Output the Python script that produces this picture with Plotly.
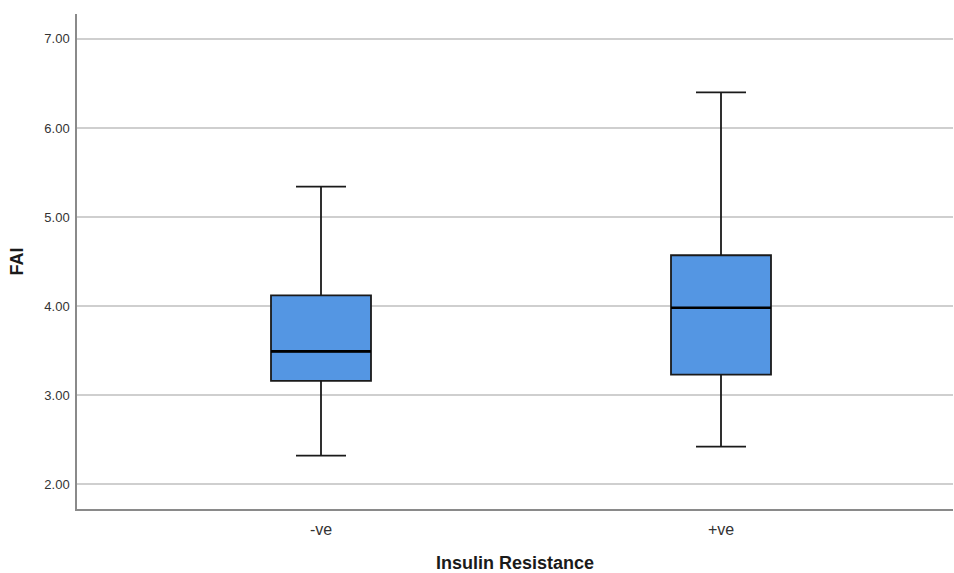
import plotly.graph_objects as go

categories = ["-ve", "+ve"]
lower = [2.32, 2.42]
q1 = [3.16, 3.23]
median = [3.49, 3.98]
q3 = [4.12, 4.57]
upper = [5.34, 6.40]
y_ticks = [2.0, 3.0, 4.0, 5.0, 6.0, 7.0]

xpos = list(range(len(categories)))
box_w = 0.25

fig = go.Figure()
fig.add_trace(go.Box(
    x=xpos, q1=q1, median=median, q3=q3, lowerfence=lower, upperfence=upper,
    width=box_w, whiskerwidth=0.5, fillcolor="#5496E3",
    line=dict(color="#1a1a1a", width=1.8), boxpoints=False, hoverinfo="skip",
    showlegend=False,
))
mx, my = [], []
for i, m in zip(xpos, median):
    mx += [i - box_w / 2, i + box_w / 2, None]
    my += [m, m, None]
fig.add_trace(go.Scatter(x=mx, y=my, mode="lines", line=dict(color="#000", width=2.6),
                         showlegend=False, hoverinfo="skip"))

fig.update_layout(
    width=954, height=573, paper_bgcolor="white", plot_bgcolor="white",
    margin=dict(l=77, r=1, t=14, b=64),
    font=dict(family="Liberation Sans, Arial, sans-serif", color="#333"),
)
fig.update_xaxes(
    range=[-0.61, 1.58], tickvals=xpos, ticktext=categories, showgrid=False,
    showline=True, linecolor="#8a8a8a", linewidth=1.5, ticks="", zeroline=False,
    tickfont=dict(size=16, color="#333"), ticklabelstandoff=5, automargin=False,
    title=dict(text="<b>Insulin Resistance</b>", font=dict(size=18, color="#1a1a1a"), standoff=25),
)
fig.update_yaxes(
    range=[1.72, 7.28], tickvals=y_ticks, ticktext=[f"{v:.2f}" for v in y_ticks],
    showgrid=True, gridcolor="#cfcfcf", gridwidth=1.5, showline=True,
    linecolor="#8a8a8a", linewidth=1.5, ticks="", zeroline=False,
    tickfont=dict(size=13, color="#333"), ticklabelstandoff=3,
    title=dict(text="<b>FAI</b>", font=dict(size=18, color="#1a1a1a"), standoff=16),
)
fig.write_html(
    "out.html",
    config={"displayModeBar": False},
    post_script="document.body.style.margin='0';document.body.style.overflow='hidden';",
)
